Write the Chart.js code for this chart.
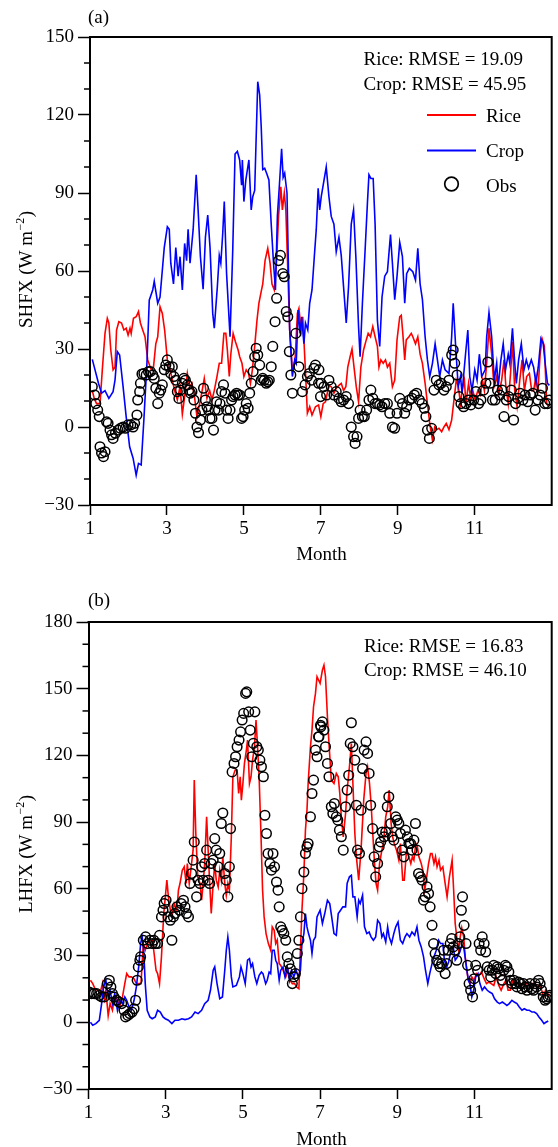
<!DOCTYPE html>
<html><head><meta charset="utf-8">
<script src="https://cdn.jsdelivr.net/npm/chart.js@4.4.1/dist/chart.umd.min.js"></script>
<style>
html,body{margin:0;padding:0;background:#fff;}
body{width:558px;height:1147px;position:relative;overflow:hidden;}
canvas{position:absolute;left:0;}
#ca{top:0;} #cb{top:580px;}
</style></head><body>
<canvas id="ca" width="558" height="580"></canvas>
<canvas id="cb" width="558" height="567"></canvas>
<script>
// ---------- Panel (a): SHFX ----------
const shfxRiceMonth = [1.06,1.11,1.17,1.26,1.32,1.39,1.45,1.49,1.54,1.60,1.65,1.69,1.75,1.82,1.88,1.94,1.99,2.04,2.07,2.13,2.20,2.26,2.31,2.37,2.43,2.50,2.59,2.65,2.71,2.76,2.82,2.88,2.94,3.01,3.07,3.14,3.20,3.27,3.34,3.40,3.46,3.53,3.59,3.65,3.71,3.78,3.85,3.91,3.97,4.04,4.11,4.17,4.23,4.30,4.36,4.42,4.48,4.53,4.57,4.62,4.66,4.72,4.78,4.85,4.89,4.95,5.00,5.06,5.12,5.17,5.22,5.28,5.34,5.39,5.44,5.49,5.55,5.62,5.68,5.73,5.79,5.85,5.90,5.96,6.00,6.05,6.09,6.13,6.19,6.26,6.33,6.39,6.43,6.49,6.53,6.59,6.65,6.71,6.77,6.86,6.94,7.00,7.06,7.12,7.21,7.27,7.34,7.40,7.47,7.53,7.59,7.65,7.70,7.76,7.81,7.87,7.92,7.98,8.04,8.11,8.18,8.23,8.29,8.35,8.41,8.47,8.51,8.56,8.62,8.68,8.73,8.79,8.86,8.92,8.98,9.05,9.09,9.13,9.18,9.22,9.29,9.35,9.39,9.46,9.52,9.58,9.64,9.71,9.77,9.83,9.90,9.96,10.01,10.07,10.14,10.20,10.26,10.33,10.40,10.46,10.52,10.57,10.63,10.67,10.73,10.77,10.84,10.90,10.95,11.01,11.08,11.14,11.20,11.25,11.31,11.37,11.44,11.50,11.57,11.63,11.70,11.76,11.81,11.87,11.93,11.98,12.04,12.10,12.17,12.23,12.29,12.35,12.42,12.48,12.53,12.59,12.64,12.70,12.75,12.81,12.87,12.92];
const shfxRice = [14,11,9,9,22,36,41.8,40,29.6,22,23,37.3,40.5,40,37.3,38,35.4,38,36,41.8,42.4,44.4,40,37.3,34.7,25.8,22,23,32,34.7,46.3,43.7,37.3,25.8,23,18,14,10.4,15.5,5,11.7,20.6,15.5,16.8,12.3,4,9,13.6,18.7,11,14,10.4,14,19.4,24.5,24.5,36,36,29.6,19.4,28,36,32.8,29.6,27,24.5,19.4,22,20.6,16.8,22,31,41,47.6,51.4,55,64,68.7,63,55,52.7,64,81,92.4,83.5,90,83.5,65.5,37.3,22,25.8,43.7,45.6,37.3,42.4,24.5,5.3,7.8,4.6,7.8,8.5,4,9,9.7,16,15.5,13,14.9,16,16.8,14,15.5,23,27,30,22,15.5,9.7,23,29.6,33.5,36,34.7,38.6,34.7,31,23,25.8,24.5,25.8,23,24.5,15.5,18,33.5,42.4,43,36,25.8,33.5,34.7,36,34.7,32,34.7,28,24.5,16.8,9,1.4,-5,0,-1,-0.5,-1.8,0,1.4,-1,2.7,10.4,18,16,9,14,18,9,16.8,10.4,14,10.4,14,12.3,18,14,24.5,38,28,15.5,19.4,13,18,25.8,15.5,9,20.6,32.8,14,7.8,18,25.8,14,19.4,20.6,14,14,19.4,13,28,34,31,9,7.8];

const shfxCropMonth = [1.06,1.22,1.30,1.39,1.49,1.60,1.65,1.71,1.77,1.86,1.94,2.03,2.12,2.20,2.26,2.33,2.40,2.48,2.54,2.63,2.67,2.76,2.82,2.93,3.01,3.06,3.10,3.17,3.23,3.29,3.34,3.40,3.46,3.51,3.55,3.60,3.68,3.76,3.81,3.87,3.94,4.00,4.06,4.12,4.19,4.23,4.31,4.36,4.40,4.45,4.49,4.55,4.64,4.71,4.77,4.83,4.89,4.94,4.96,5.00,5.05,5.13,5.19,5.23,5.28,5.36,5.41,5.45,5.49,5.54,5.59,5.65,5.71,5.77,5.82,5.87,5.92,5.98,6.02,6.06,6.12,6.15,6.19,6.26,6.32,6.36,6.41,6.46,6.50,6.56,6.60,6.66,6.71,6.77,6.83,6.88,6.93,6.97,7.01,7.14,7.21,7.27,7.34,7.40,7.47,7.53,7.59,7.66,7.72,7.79,7.85,7.91,7.98,8.02,8.08,8.15,8.21,8.25,8.30,8.36,8.41,8.47,8.53,8.59,8.66,8.73,8.81,8.86,8.92,8.98,9.05,9.12,9.18,9.23,9.30,9.39,9.46,9.52,9.58,9.64,9.71,9.77,9.83,9.90,9.97,10.03,10.09,10.16,10.23,10.33,10.40,10.44,10.50,10.57,10.63,10.67,10.76,10.82,10.87,10.93,11.00,11.06,11.12,11.18,11.27,11.31,11.37,11.44,11.51,11.57,11.61,11.68,11.74,11.80,11.87,11.91,11.98,12.04,12.08,12.14,12.21,12.28,12.34,12.40,12.47,12.53,12.59,12.65,12.72,12.78,12.83,12.89,12.94];
const shfxCrop = [26,16.8,13,14,11,13.6,18,29,27.7,15.5,4,-7.6,-12,-18.5,-14,-14.6,2.7,24.5,48.8,52.7,56,47.6,50,69,77,76,63,55,69,58,65.5,52.7,70.6,64,76,63,75.8,97,83.5,65.5,53,73,81.5,69,43.7,38,54,66,63,74.5,86.7,59,34.7,68,105,106,102.7,93,102.7,86.7,95,102.7,83.5,88.6,91,132.8,127.7,115.5,99,99.5,97.6,95,78,63,52.7,81,92.4,107,96,97.6,90,66.8,37.3,19.4,25.8,24.5,45,36,42.4,32,40,37.3,47.6,52.7,65.5,75.8,91.8,83.5,88.6,100,88.6,81,78,67.4,73,66,54,40,54,78,83.5,65.5,38.6,27,47.6,68,86,97,95.6,95.6,78,41,31,50,58,59.7,74,63,49,58,71,65.5,47.6,59,61,59.7,56.5,68.7,55,49,34.7,25.8,19.4,24.5,32,25.8,19.4,25.8,22,20.6,34.7,47.6,32,15.5,19.4,13,28,37.3,19.4,14,22,18,28,19.4,22,34.7,44,34.7,18,24.5,15.5,25.8,32,22,28,24.5,38,24.5,16.8,25.8,32,22,25.8,22.6,25.8,23,16.8,23,34,32,24.5,16.8,16];

const shfxObsMonth = [1.06,1.12,1.15,1.20,1.24,1.26,1.30,1.35,1.39,1.43,1.47,1.52,1.56,1.60,1.66,1.73,1.79,1.86,1.92,1.99,2.06,2.12,2.16,2.22,2.24,2.29,2.31,2.35,2.40,2.46,2.52,2.57,2.63,2.67,2.71,2.76,2.80,2.84,2.88,2.93,2.97,3.01,3.06,3.10,3.14,3.18,3.23,3.27,3.31,3.35,3.40,3.44,3.48,3.53,3.57,3.61,3.65,3.70,3.74,3.78,3.82,3.87,3.91,3.95,4.00,4.04,4.08,4.12,4.17,4.21,4.25,4.29,4.34,4.38,4.42,4.47,4.51,4.55,4.59,4.64,4.68,4.72,4.77,4.81,4.85,4.89,4.94,4.98,5.02,5.06,5.11,5.15,5.19,5.24,5.28,5.32,5.36,5.41,5.45,5.49,5.53,5.58,5.62,5.66,5.71,5.75,5.81,5.85,5.90,5.95,6.01,6.05,6.10,6.14,6.18,6.22,6.26,6.35,6.43,6.52,6.59,6.65,6.70,6.76,6.82,6.86,6.94,6.95,6.99,7.01,7.08,7.15,7.21,7.27,7.34,7.40,7.47,7.53,7.59,7.66,7.72,7.79,7.85,7.89,7.94,7.98,8.02,8.08,8.13,8.19,8.25,8.30,8.35,8.41,8.47,8.53,8.59,8.66,8.73,8.79,8.86,8.92,8.98,9.05,9.12,9.18,9.23,9.30,9.37,9.43,9.49,9.56,9.63,9.69,9.73,9.77,9.82,9.88,9.94,10.00,10.07,10.13,10.20,10.26,10.33,10.40,10.44,10.48,10.54,10.59,10.64,10.71,10.77,10.84,10.90,10.97,11.03,11.10,11.16,11.23,11.29,11.34,11.40,11.46,11.53,11.59,11.65,11.71,11.76,11.82,11.88,11.95,12.01,12.06,12.12,12.18,12.25,12.31,12.38,12.45,12.51,12.57,12.64,12.70,12.76,12.82,12.89,12.94];
const shfxObs = [15.5,12.3,9,6.5,4,-7.6,-10,-11.4,-9.5,2,1.4,-1.2,-3,-4.4,-2.4,-1.2,-0.5,0,-0.5,0.8,0.8,0,1.4,4.6,10.4,13.6,16.8,20.4,20.6,20,21.3,21.3,20,18.7,14.9,9,13,14.2,16.2,22,23.8,25.8,23.2,20.6,23.2,19.4,18,13.6,11,14.2,16.8,18.7,18,16.2,14.2,13,13.6,10.4,5.3,0,-2.2,2.7,6.5,14.9,10.4,7.8,6.5,3.3,3.3,-1.2,6.5,9.7,6.5,9,13.6,16.2,13,6.5,3.3,6.5,10.4,11.7,12.3,13,12.3,12.3,3.3,4,6.5,9,7.2,13,16.8,21.3,27,30.3,27.7,23.8,18,18.7,18,16.8,17.4,18,23.2,31,40.5,49.5,64,66,59,57.8,44.4,42.4,29,20,13,36,23.2,13.6,16.2,19.4,20.6,18,22.6,23.8,16.8,22,11.7,16.8,15.5,12.3,18,15.5,12.3,13.6,11,9.7,10.4,11.7,9,0,-3.7,-6.3,-3.7,3.3,6.5,4,4,6.5,10.4,14.2,11,9,9,8.5,7.8,9,9,5.3,0,-0.5,5.3,11,9,5.3,7.8,10.4,11,12.3,13,10.4,9,7.2,4,-1.2,-4.4,-0.5,14.2,18,16.2,16.8,14.2,15.5,18,27.7,29.6,24.5,20,11.7,9,7.8,9,10.4,8.5,10.4,13.6,9,10.4,14.2,16.8,25,16.8,10.4,10.4,14.2,12.3,14.2,4,10.4,11.7,14.2,2.7,9,11,13,10.4,12.3,9.7,12.3,13,6.5,10.4,12.3,14.9,9,9,10.4];

// ---------- Panel (b): LHFX ----------
const lhfxRiceMonth = [1.05,1.11,1.17,1.24,1.30,1.36,1.41,1.45,1.51,1.56,1.62,1.68,1.75,1.81,1.88,1.94,1.99,2.05,2.11,2.18,2.24,2.30,2.36,2.42,2.47,2.53,2.59,2.65,2.69,2.75,2.79,2.84,2.89,2.95,2.99,3.03,3.07,3.12,3.16,3.22,3.29,3.33,3.37,3.43,3.48,3.53,3.56,3.61,3.67,3.71,3.74,3.78,3.83,3.89,3.93,3.97,4.01,4.06,4.10,4.14,4.18,4.23,4.27,4.31,4.36,4.40,4.44,4.48,4.53,4.57,4.61,4.65,4.70,4.74,4.80,4.85,4.89,4.93,4.96,5.00,5.04,5.09,5.12,5.17,5.21,5.25,5.30,5.34,5.38,5.42,5.47,5.51,5.55,5.60,5.66,5.72,5.76,5.81,5.85,5.89,5.94,5.98,6.04,6.11,6.17,6.22,6.28,6.34,6.39,6.45,6.49,6.53,6.58,6.62,6.66,6.69,6.75,6.79,6.83,6.88,6.92,7.00,7.06,7.10,7.14,7.19,7.23,7.29,7.36,7.42,7.47,7.51,7.55,7.60,7.66,7.70,7.76,7.81,7.85,7.90,7.94,8.00,8.06,8.13,8.19,8.23,8.28,8.32,8.37,8.41,8.45,8.49,8.54,8.60,8.64,8.70,8.75,8.79,8.84,8.88,8.92,8.98,9.04,9.08,9.14,9.18,9.24,9.30,9.35,9.39,9.43,9.48,9.52,9.56,9.62,9.66,9.71,9.75,9.81,9.86,9.90,9.95,9.99,10.03,10.08,10.12,10.18,10.24,10.29,10.35,10.42,10.46,10.50,10.55,10.59,10.63,10.67,10.72,10.76,10.80,10.84,10.89,10.93,10.99,11.05,11.12,11.18,11.25,11.31,11.37,11.43,11.50,11.56,11.63,11.69,11.76,11.82,11.87,11.93,11.99,12.06,12.12,12.19,12.25,12.31,12.37,12.44,12.50,12.57,12.63,12.68,12.74,12.79,12.84,12.90,12.94];
const lhfxRice = [18.9,17.4,15,14.4,13,17.4,10.6,14.4,3,8.4,5.4,12,10,7,11.4,17.4,21.9,20.4,20.4,19.6,17.4,17.4,17.4,35.4,32.4,35.4,37,37,32.4,23.4,21.9,17.4,29.4,48.9,56.4,63.9,56.4,50.4,47.4,53.4,50.4,59.4,62.4,68.4,69.9,62.4,71.4,62.4,71.4,77.4,108.9,84.9,65.4,62.4,54.9,62.4,71.4,92.4,77.4,62.4,48.9,62.4,71.4,63.9,60.9,68.4,63.9,74.4,62.4,57.1,62.4,59.4,83.4,110.4,113.4,113.4,102.9,110.4,99.9,107.4,116.4,122.4,126.9,107.4,110.4,117.9,123.9,135.9,123.9,110.4,83.4,59.4,47.4,39.9,35.4,32.4,42.9,41.4,35.4,37,26.4,25.6,23.4,20.4,23.4,18.9,17.4,17.4,15.9,15.1,32.4,50.4,66.9,86.4,95.4,107.4,123.9,131.4,141.9,147.9,155.4,152.4,158.4,160.6,155.4,137.4,125.4,108.9,107.4,111.9,110.4,102.9,92.4,83.4,93.9,104.4,114.9,125.4,107.4,84.9,74.4,63.9,77.4,99.9,111.9,114.9,107.4,98.4,83.4,71.4,62.4,59.4,71.4,77.4,80.4,92.4,96.9,104.4,89.4,83.4,80.4,77.4,72.9,80.4,63.9,63.9,77.4,74.4,71.4,74.4,72.9,80.4,78.9,74.4,71.4,68.4,59.4,63.9,71.4,75.9,75.9,71.4,74.4,69.9,72.9,68.4,69.9,62.4,56.4,65.4,72.9,59.4,44.4,36.9,32.4,38.4,42.4,38.4,29.4,23.4,18.9,17.4,20.4,18.9,21.9,21.1,22.6,19.6,17.4,18.1,17.4,16.6,20.4,16.6,14.4,17.4,18.9,14.4,14.4,18.9,17.4,17.4,15.9,17.4,16.6,18.1,16.6,17.4,17.4,15.9,16.6,14.4,11.4,14.4,12.9,11.4];

const lhfxCropMonth = [1.05,1.11,1.19,1.28,1.34,1.39,1.45,1.51,1.56,1.62,1.68,1.75,1.81,1.88,1.94,1.99,2.05,2.11,2.18,2.24,2.30,2.35,2.39,2.43,2.47,2.52,2.59,2.65,2.73,2.79,2.86,2.93,2.99,3.07,3.16,3.24,3.33,3.42,3.50,3.59,3.67,3.76,3.84,3.93,4.01,4.10,4.16,4.23,4.27,4.33,4.40,4.47,4.53,4.57,4.61,4.65,4.70,4.74,4.83,4.91,4.95,5.00,5.06,5.12,5.17,5.21,5.25,5.31,5.36,5.42,5.48,5.52,5.59,5.63,5.68,5.72,5.76,5.81,5.85,5.89,5.94,5.98,6.04,6.09,6.15,6.21,6.26,6.32,6.38,6.43,6.49,6.53,6.58,6.62,6.66,6.70,6.75,6.79,6.83,6.88,6.92,7.00,7.06,7.12,7.19,7.25,7.30,7.36,7.42,7.47,7.53,7.59,7.66,7.70,7.76,7.81,7.85,7.90,7.96,8.00,8.04,8.10,8.15,8.21,8.27,8.32,8.38,8.44,8.49,8.55,8.60,8.64,8.70,8.75,8.79,8.85,8.91,8.96,9.02,9.08,9.14,9.20,9.25,9.32,9.38,9.45,9.51,9.56,9.62,9.68,9.73,9.79,9.84,9.90,9.95,10.01,10.07,10.12,10.18,10.22,10.28,10.33,10.39,10.45,10.50,10.56,10.62,10.67,10.72,10.78,10.84,10.88,10.93,10.98,11.03,11.09,11.14,11.20,11.26,11.33,11.39,11.46,11.52,11.59,11.65,11.72,11.78,11.84,11.90,11.97,12.03,12.10,12.16,12.23,12.29,12.36,12.42,12.49,12.55,12.61,12.67,12.74,12.80,12.85,12.91];
const lhfxCrop = [0,-1.3,-0.6,0.9,8.4,15.9,18.9,11.4,14.4,8.4,12.9,5.4,9.9,8.4,11.4,9.9,6.9,5.4,9.9,15.9,24.9,35.4,38.4,32.4,17.4,5.4,2.4,1.6,2.4,5.4,4.6,2.4,1.6,0.9,-0.6,0.9,0.9,1.6,1.2,1.6,2.4,4.6,3.9,5.4,8.4,9.9,14.4,23.4,24.9,17.4,10.6,11.4,23.4,32.4,38.4,32.4,20.4,15.9,16.6,20.4,24.9,21.9,17.4,27.9,28.6,24.9,26.4,20.4,17.4,21.1,22.6,21.9,17.4,18.9,22.6,21.9,32.4,32.4,27.9,26.4,18.9,23.4,24.9,20.4,24.9,18.9,23.4,20.4,23.4,20.4,23.4,35.4,39.9,48.9,42.9,39.9,36.9,30.9,36.9,38.4,47.4,50.4,44.4,48.9,54.9,53.4,47.4,39.9,39.1,48.9,50.4,51.9,51.9,62.4,65.4,66.1,56.4,56.4,47.4,54.9,53.4,57.1,42.9,39.9,40.6,38.4,36.9,38.4,45.9,44.4,38.4,39.9,36.1,42.9,38.4,35.4,39.9,42.9,45.1,36.9,35.4,38.4,39.9,38.4,40.6,39.1,42.9,36.9,33.9,29.4,23.4,17.4,21.9,26.4,29.4,32.4,36.9,35.4,35.4,27.9,24.9,27.1,32.4,33.9,27.9,29.4,31.6,34.6,33.9,26.4,18.9,17.4,11.4,14.4,20.4,21.9,17.4,14.4,15.9,14.4,13.6,12.9,10.6,9.1,8.4,9.1,8.4,7.6,8.4,9.9,9.1,8.4,6.9,5.4,6.1,5.4,5.4,4.6,4.6,3.9,2.4,0.9,-0.6,0,0.6];

const lhfxObsMonth = [1.02,1.08,1.15,1.21,1.28,1.34,1.41,1.49,1.54,1.58,1.62,1.66,1.73,1.79,1.86,1.92,1.96,2.02,2.07,2.13,2.18,2.22,2.26,2.29,2.33,2.35,2.42,2.48,2.53,2.59,2.65,2.69,2.73,2.79,2.84,2.89,2.93,2.96,3.01,3.06,3.12,3.16,3.20,3.24,3.29,3.36,3.40,3.46,3.50,3.54,3.59,3.63,3.67,3.71,3.74,3.80,3.84,3.89,3.93,3.97,4.01,4.06,4.10,4.14,4.18,4.23,4.27,4.31,4.36,4.40,4.44,4.48,4.53,4.57,4.61,4.65,4.68,4.72,4.77,4.81,4.85,4.90,4.94,4.98,5.02,5.07,5.10,5.15,5.19,5.23,5.27,5.31,5.36,5.40,5.44,5.48,5.53,5.57,5.61,5.65,5.70,5.74,5.78,5.82,5.87,5.91,5.94,5.98,6.02,6.06,6.11,6.15,6.19,6.23,6.28,6.32,6.36,6.41,6.45,6.49,6.53,6.58,6.62,6.66,6.69,6.75,6.79,6.83,6.88,6.92,6.96,6.97,7.01,7.02,7.06,7.10,7.14,7.19,7.23,7.29,7.33,7.37,7.42,7.46,7.50,7.55,7.60,7.66,7.70,7.74,7.78,7.81,7.85,7.90,7.94,7.97,8.02,8.06,8.10,8.14,8.19,8.23,8.27,8.31,8.36,8.40,8.44,8.49,8.53,8.57,8.61,8.66,8.70,8.74,8.78,8.83,8.87,8.91,8.96,9.00,9.04,9.08,9.13,9.17,9.21,9.26,9.30,9.34,9.38,9.43,9.47,9.51,9.55,9.60,9.64,9.68,9.72,9.77,9.81,9.85,9.90,9.94,9.98,10.02,10.07,10.11,10.15,10.20,10.24,10.28,10.32,10.37,10.41,10.45,10.49,10.54,10.58,10.62,10.66,10.69,10.73,10.78,10.82,10.86,10.90,10.95,10.99,11.03,11.08,11.12,11.16,11.20,11.25,11.29,11.33,11.38,11.42,11.46,11.50,11.55,11.59,11.63,11.67,11.72,11.76,11.80,11.84,11.89,11.93,11.97,12.02,12.06,12.10,12.14,12.19,12.23,12.27,12.31,12.36,12.40,12.44,12.49,12.53,12.57,12.61,12.66,12.70,12.74,12.78,12.83,12.87,12.91,12.95];
const lhfxObs = [13.6,12.9,12.9,12.9,12.1,11.4,11.4,17.4,18.9,15.9,12.9,11.4,9.9,9.1,8.4,5.4,2.4,3.1,3.9,4.6,6.1,9.9,18.9,24.9,27.9,29.4,36.9,38.4,35.4,36.9,35.4,36.9,35.4,35.4,39.1,47.4,50.4,53.4,54.9,47.4,45.9,36.9,47.4,48.9,51.9,50.4,53.4,54.9,51.9,48.9,47.4,62.4,66.9,72.9,81.1,56.4,63.9,62.4,69.9,63.9,71.4,77.4,63.9,62.4,71.4,72.9,82.6,77.4,69.9,75.9,89.4,94.1,66.9,63.9,56.4,69.9,87.1,112.6,116.4,119.4,123.9,126.9,130.6,135.9,138.9,147.9,148.6,139.6,131.4,119.4,125.4,139.6,123.9,122.4,117.9,114.9,110.4,93.1,84.9,75.9,71.4,68.4,75.9,69.9,63.1,59.4,51.9,42.9,41.4,39.9,36.9,29.4,26.4,24.1,17.4,20.4,21.9,30.9,36.9,47.4,60.1,67.6,75.9,78.9,80.4,92.4,102.9,108.9,122.4,119.4,128.4,128.4,133.6,132.9,135.1,131.4,123.9,116.4,110.4,96.9,93.9,98.4,92.4,90.9,86.4,83.4,77.4,96.9,104.4,111.1,125.4,134.7,123.9,117.9,97.6,77.4,75.9,95.4,114.1,122.4,126.1,120.9,111.9,97.6,87.1,74.4,65.4,71.4,78.9,81.1,85.6,83.4,85.6,96.9,101.4,89.4,83.4,81.9,92.4,90.9,89.4,84.9,77.4,74.4,86.4,83.4,80.4,80.4,77.4,81.9,89.4,77.4,66.9,65.4,63.9,54.9,56.4,60.9,57.9,51.9,43.6,35.4,30.9,27.9,26.4,24.9,26.4,32.4,21.9,26.4,32.4,35.4,37.6,33.9,32.4,27.9,35.4,38.4,50.4,56.4,43.6,35.4,25.6,17.4,14.4,11.4,19.6,25.6,23.4,35.4,32.4,38.4,35.4,31.6,24.9,23.4,20.4,23.4,25.6,21.9,24.9,24.1,21.1,18.9,23.4,25.6,24.9,22.6,18.9,17.4,18.9,17.4,15.9,18.1,17.4,15.1,17.4,15.9,14.4,15.9,17.4,15.1,14.4,17.4,15.9,18.9,17.4,14.4,11.4,9.9,10.6,11.4,12.1];

// ---------- Axis / label settings ----------
const monthTicks = [1, 3, 5, 7, 9, 11];
const shfxRange = [-30, 150];
const lhfxRange = [-30, 180];
const rmseA = ['Rice: RMSE = 19.09', 'Crop: RMSE = 45.95'];
const rmseB = ['Rice: RMSE = 16.83', 'Crop: RMSE = 46.10'];
const legendNames = ['Rice', 'Crop', 'Obs'];

const FONT = '"Liberation Serif", "Times New Roman", serif';
const RED = '#ff0000', BLUE = '#0000ff', BLACK = '#000000';

function pts(xs, ys) { return xs.map((x, i) => ({ x: x, y: ys[i] })); }
function minusLabel(v) { return v < 0 ? '\u2212' + Math.abs(v) : String(v); }

function makePanel(id, cfg) {
  const deco = {
    id: 'deco',
    afterDraw(chart) {
      const ctx = chart.ctx, a = chart.chartArea, ys = chart.scales.y;
      ctx.save();
      ctx.strokeStyle = BLACK; ctx.lineWidth = 2;
      ctx.beginPath();
      ctx.moveTo(a.left - 1, a.top); ctx.lineTo(a.right, a.top); ctx.lineTo(a.right, a.bottom + 1);
      ctx.stroke();
      ctx.lineWidth = 1.5;
      for (let v = ys.min; v <= ys.max; v += 10) {
        if (v % 30 === 0) continue;
        const py = ys.getPixelForValue(v);
        ctx.beginPath(); ctx.moveTo(a.left - 6, py); ctx.lineTo(a.left, py); ctx.stroke();
      }
      ctx.fillStyle = BLACK;
      ctx.font = '19px ' + FONT;
      ctx.textBaseline = 'alphabetic';
      ctx.textAlign = 'left';
      ctx.fillText(cfg.letter, 88, cfg.letterY);
      ctx.fillText(cfg.rmse[0], cfg.rmseX, cfg.rmseY);
      ctx.fillText(cfg.rmse[1], cfg.rmseX, cfg.rmseY + 24.5);
      ctx.textAlign = 'center';
      ctx.fillText('Month', 321.5, cfg.monthY);
      if (cfg.legend) {
        ctx.textAlign = 'left';
        const lx0 = 427, lx1 = 476, tx = 486;
        const rows = [115, 150.5, 184];
        ctx.lineWidth = 2;
        ctx.strokeStyle = RED;
        ctx.beginPath(); ctx.moveTo(lx0, rows[0]); ctx.lineTo(lx1, rows[0]); ctx.stroke();
        ctx.strokeStyle = BLUE;
        ctx.beginPath(); ctx.moveTo(lx0, rows[1]); ctx.lineTo(lx1, rows[1]); ctx.stroke();
        ctx.strokeStyle = BLACK; ctx.lineWidth = 1.7;
        ctx.beginPath(); ctx.arc((lx0 + lx1) / 2, rows[2], 6.8, 0, Math.PI * 2); ctx.stroke();
        ctx.fillText(legendNames[0], tx, rows[0] + 6.5);
        ctx.fillText(legendNames[1], tx, rows[1] + 6.5);
        ctx.fillText(legendNames[2], tx, rows[2] + 7.5);
      }
      const cy = (a.top + a.bottom) / 2 - 1;
      ctx.translate(25, cy);
      ctx.rotate(-Math.PI / 2);
      ctx.textAlign = 'left';
      const main = cfg.yName + ' (W m', sup = '\u22122', close = ')';
      ctx.font = '19px ' + FONT; const w1 = ctx.measureText(main).width; const w3 = ctx.measureText(close).width;
      ctx.font = '12px ' + FONT; const w2 = ctx.measureText(sup).width;
      let x0 = -(w1 + w2 + w3) / 2;
      ctx.font = '19px ' + FONT; ctx.fillText(main, x0, 6.5);
      ctx.font = '12px ' + FONT; ctx.fillText(sup, x0 + w1 + 0.5, -1.5);
      ctx.font = '19px ' + FONT; ctx.fillText(close, x0 + w1 + w2 + 1, 6.5);
      ctx.restore();
    }
  };

  return new Chart(document.getElementById(id), {
    type: 'line',
    data: {
      datasets: [
        { label: legendNames[2], data: pts(cfg.obsM, cfg.obsV), showLine: false,
          pointStyle: 'circle', pointRadius: 4.8, pointBorderWidth: 1.5,
          pointBorderColor: BLACK, pointBackgroundColor: 'rgba(0,0,0,0)', borderColor: BLACK, order: 1 },
        { label: legendNames[1], data: pts(cfg.cropM, cfg.cropV), borderColor: BLUE, borderWidth: 1.6,
          pointRadius: 0, tension: 0, fill: false, order: 2 },
        { label: legendNames[0], data: pts(cfg.riceM, cfg.riceV), borderColor: RED, borderWidth: 1.6,
          pointRadius: 0, tension: 0, fill: false, order: 3 }
      ]
    },
    options: {
      responsive: false, animation: false, devicePixelRatio: 1,
      layout: { padding: { top: cfg.top, right: cfg.right, bottom: 0, left: 0 } },
      plugins: { legend: { display: false }, tooltip: { enabled: false } },
      scales: {
        x: {
          type: 'linear', min: 1, max: 13,
          afterBuildTicks: s => { s.ticks = monthTicks.map(v => ({ value: v })); },
          afterFit: s => { s.height = cfg.xH; },
          ticks: { autoSkip: false, maxRotation: 0, padding: 3, color: BLACK,
                   font: { family: FONT, size: 19 }, callback: v => String(v) },
          grid: { drawOnChartArea: false, drawTicks: true, tickLength: 10, tickColor: BLACK, tickWidth: 1.5 },
          border: { display: true, color: BLACK, width: 2 }
        },
        y: {
          type: 'linear', min: cfg.range[0], max: cfg.range[1],
          afterFit: s => { s.width = cfg.yW; },
          ticks: { stepSize: 10, autoSkip: false, padding: 4, color: BLACK,
                   font: { family: FONT, size: 19 },
                   callback: v => (v % 30 === 0 ? minusLabel(v) : '') },
          grid: { drawOnChartArea: false, drawTicks: true, tickLength: 12, tickWidth: 1.5,
                  tickColor: c => (c.tick && c.tick.value % 30 === 0) ? BLACK : 'rgba(0,0,0,0)' },
          border: { display: true, color: BLACK, width: 2 }
        }
      }
    },
    plugins: [deco]
  });
}

makePanel('ca', {
  riceM: shfxRiceMonth, riceV: shfxRice, cropM: shfxCropMonth, cropV: shfxCrop,
  obsM: shfxObsMonth, obsV: shfxObs, range: shfxRange,
  top: 37, right: 1, xH: 75, yW: 90,
  letter: '(a)', letterY: 23, rmse: rmseA, rmseX: 363.5, rmseY: 65, monthY: 560,
  legend: true, yName: 'SHFX'
});
makePanel('cb', {
  riceM: lhfxRiceMonth, riceV: lhfxRice, cropM: lhfxCropMonth, cropV: lhfxCrop,
  obsM: lhfxObsMonth, obsV: lhfxObs, range: lhfxRange,
  top: 42, right: 2, xH: 58, yW: 88.5,
  letter: '(b)', letterY: 26, rmse: rmseB, rmseX: 364, rmseY: 71.7, monthY: 565,
  legend: false, yName: 'LHFX'
});
</script>
</body></html>
